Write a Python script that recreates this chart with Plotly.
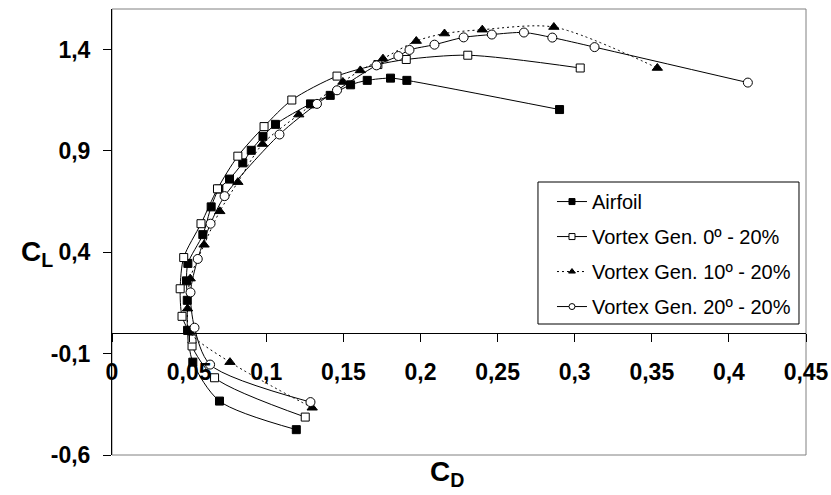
import plotly.graph_objects as go

# ---- data ----
airfoil_cd = [0.1195, 0.0697, 0.0524, 0.0490, 0.0488, 0.0483, 0.0492, 0.0589, 0.0643, 0.0693,
              0.0762, 0.0848, 0.0903, 0.0979, 0.1060, 0.1287, 0.1415, 0.1547, 0.1655, 0.1806,
              0.1912, 0.2902]
airfoil_cl = [-0.475, -0.334, -0.142, 0.015, 0.163, 0.259, 0.345, 0.487, 0.624, 0.712,
              0.761, 0.841, 0.903, 0.972, 1.031, 1.132, 1.174, 1.226, 1.248, 1.259,
              1.248, 1.104]

vg0_cd = [0.1253, 0.0665, 0.0519, 0.0519, 0.0454, 0.0442, 0.0465, 0.0577, 0.0684, 0.0816,
          0.0986, 0.1166, 0.1459, 0.1724, 0.1908, 0.2307, 0.3036]
vg0_cl = [-0.413, -0.219, -0.062, -0.028, 0.084, 0.220, 0.374, 0.541, 0.713, 0.874,
          1.020, 1.151, 1.269, 1.326, 1.351, 1.372, 1.309]

vg10_cd = [0.1298, 0.0765, 0.0503, 0.0490, 0.0507, 0.0597, 0.0699, 0.0816, 0.0976, 0.1211,
           0.1497, 0.1610, 0.1757, 0.1973, 0.2156, 0.2401, 0.2865, 0.3536]
vg10_cl = [-0.367, -0.142, 0.007, 0.122, 0.270, 0.437, 0.602, 0.746, 0.934, 1.079,
           1.240, 1.297, 1.355, 1.442, 1.479, 1.498, 1.511, 1.309]

vg20_cd = [0.1287, 0.0636, 0.0535, 0.0509, 0.0556, 0.0639, 0.0730, 0.1086, 0.1329, 0.1459,
           0.1715, 0.1857, 0.1929, 0.2091, 0.2280, 0.2463, 0.2671, 0.2855, 0.3129, 0.4123]
vg20_cl = [-0.339, -0.154, 0.028, 0.202, 0.367, 0.541, 0.677, 0.981, 1.132, 1.199,
           1.322, 1.368, 1.398, 1.424, 1.460, 1.474, 1.484, 1.459, 1.412, 1.237]

series_names = ["Airfoil", "Vortex Gen. 0º - 20%", "Vortex Gen. 10º - 20%", "Vortex Gen. 20º - 20%"]

x_tickvals = [0, 0.05, 0.1, 0.15, 0.2, 0.25, 0.3, 0.35, 0.4, 0.45]
x_ticktext = ["0", "0,05", "0,1", "0,15", "0,2", "0,25", "0,3", "0,35", "0,4", "0,45"]
y_tickvals = [-0.6, -0.1, 0.4, 0.9, 1.4]
y_ticktext = ["-0,6", "-0,1", "0,4", "0,9", "1,4"]

x_range = [0, 0.45]
y_range = [-0.6, 1.6]

FONT = "Liberation Sans, Arial, sans-serif"

styles = [
    dict(symbol="square", color="black", lc="black", size=8, dash="solid"),
    dict(symbol="square", color="white", lc="black", size=8, dash="solid"),
    dict(symbol="triangle-up", color="black", lc="black", size=9, dash="2px,3px"),
    dict(symbol="circle", color="white", lc="black", size=9, dash="solid"),
]
data = [(airfoil_cd, airfoil_cl), (vg0_cd, vg0_cl), (vg10_cd, vg10_cl), (vg20_cd, vg20_cl)]

fig = go.Figure()
for (xs, ys), st, nm in zip(data, styles, series_names):
    fig.add_trace(go.Scatter(
        x=xs, y=ys, mode="lines+markers", name=nm, showlegend=False,
        line=dict(color="black", width=1, dash=st["dash"], shape="spline", smoothing=0.8),
        marker=dict(symbol=st["symbol"], size=st["size"], color=st["color"],
                    line=dict(color=st["lc"], width=1)),
    ))

# legend-only entries with smaller markers
for i, (st, nm) in enumerate(zip(styles, series_names)):
    fig.add_trace(go.Scatter(
        x=[None], y=[None], mode="lines+markers", name=nm, legendgroup=f"g{i}",
        line=dict(color="black", width=1, dash=st["dash"]),
        marker=dict(symbol=st["symbol"], size=6, color=st["color"],
                    line=dict(color=st["lc"], width=1)),
    ))

x_axis_pos = (0 - y_range[0]) / (y_range[1] - y_range[0])

fig.update_layout(
    width=831, height=495,
    margin=dict(l=112, r=25, t=9, b=40, autoexpand=False),
    paper_bgcolor="white", plot_bgcolor="white",
    font=dict(family=FONT, color="black"),
    showlegend=True,
    legend=dict(x=0.634, y=0.612, xanchor="left", yanchor="top",
                bgcolor="rgba(0,0,0,0)", borderwidth=0,
                font=dict(size=20, family=FONT, color="black"),
                tracegroupgap=6, traceorder="grouped"),
    xaxis=dict(range=x_range, tickvals=x_tickvals, ticktext=x_ticktext,
               anchor="free", position=x_axis_pos,
               showline=True, linecolor="black", linewidth=1,
               ticks="outside", ticklen=8, tickcolor="black", tickwidth=1,
               showgrid=False, zeroline=False, ticklabelstandoff=10,
               tickfont=dict(size=23, family=FONT, color="black", weight="bold")),
    yaxis=dict(range=y_range, tickvals=y_tickvals, ticktext=y_ticktext,
               showline=True, linecolor="black", linewidth=1,
               ticks="outside", ticklen=8, tickcolor="black", tickwidth=1,
               showgrid=False, zeroline=False, ticklabelstandoff=8,
               tickfont=dict(size=23, family=FONT, color="black", weight="bold")),
    shapes=[
        dict(type="rect", xref="paper", yref="paper", x0=0, x1=1, y0=0, y1=1,
             line=dict(color="#808080", width=1), layer="below"),
        dict(type="rect", xref="paper", yref="paper", x0=0.6138, x1=0.9899, y0=0.2937, y1=0.6121,
             line=dict(color="black", width=1), fillcolor="white", layer="above"),
    ],
    annotations=[
        dict(text="<b>C<sub>L</sub></b>", xref="paper", yref="paper", x=-0.134, y=0.452,
             showarrow=False, font=dict(size=28, family=FONT, color="black")),
        dict(text="<b>C<sub>D</sub></b>", xref="paper", yref="paper", x=0.482, y=-0.085,
             showarrow=False, font=dict(size=28, family=FONT, color="black")),
    ],
)

fig.write_html("out.html")
